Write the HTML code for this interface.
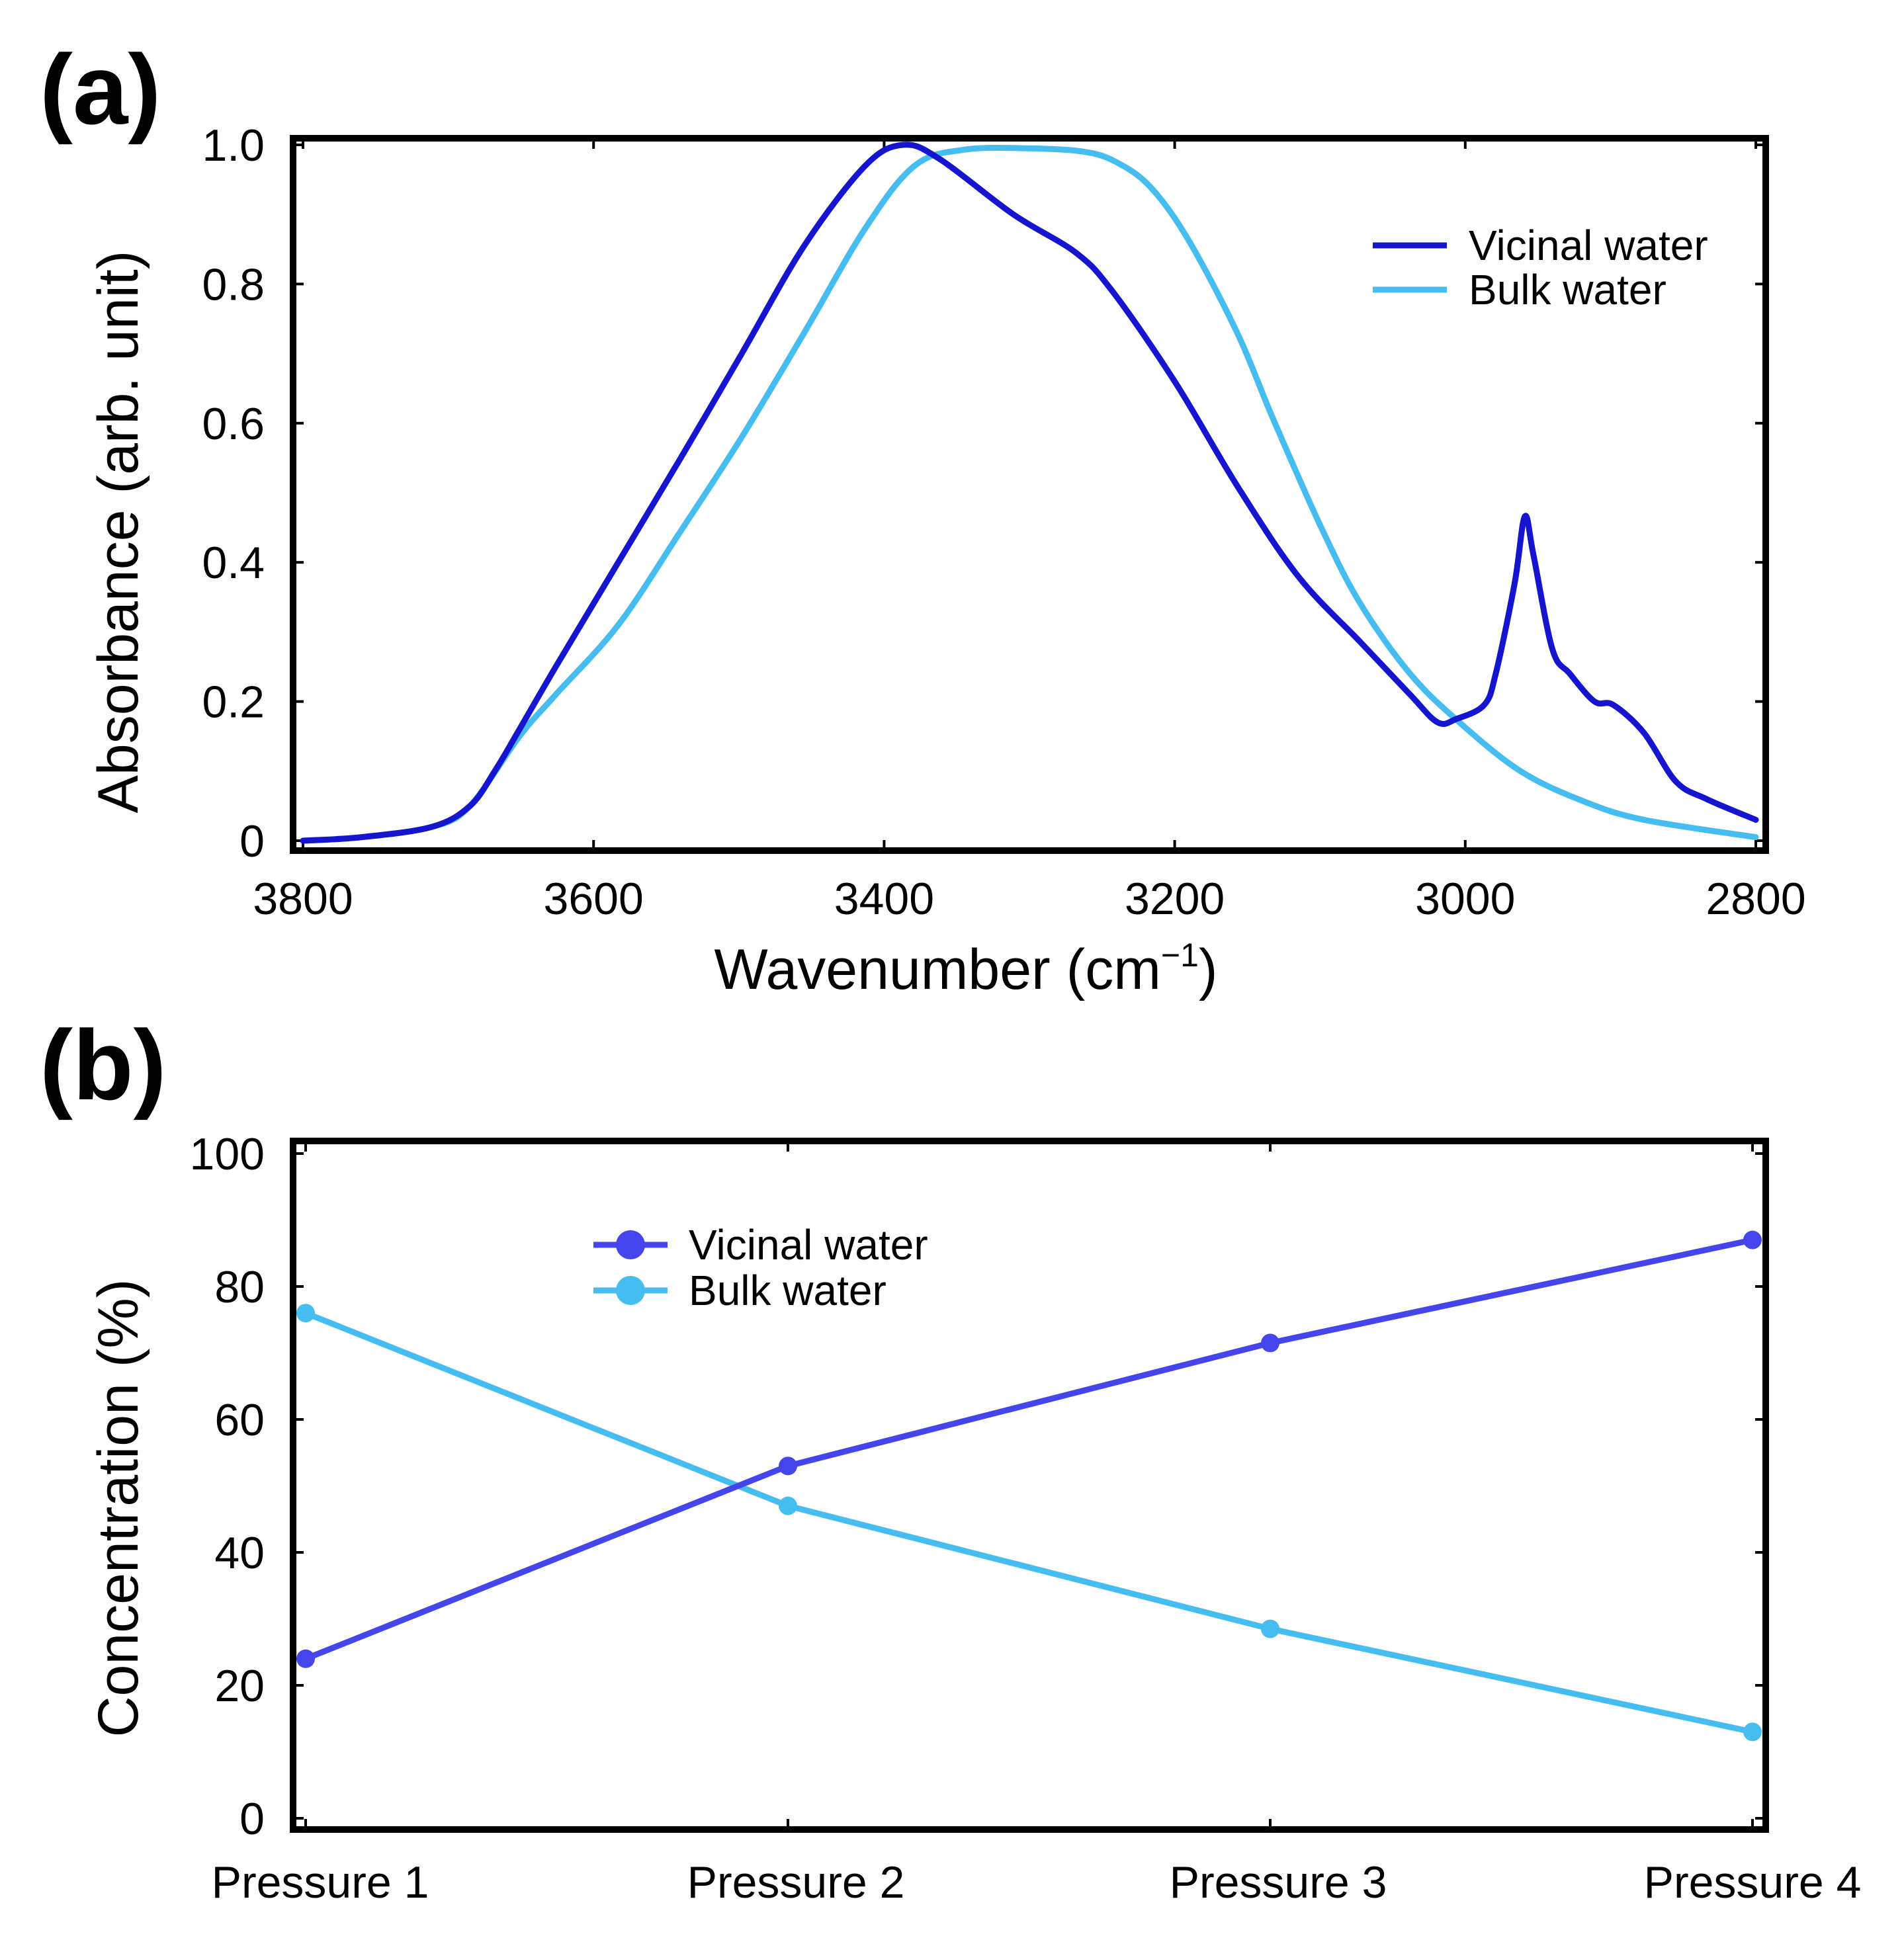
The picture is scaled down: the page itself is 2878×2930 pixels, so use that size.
<!DOCTYPE html>
<html><head><meta charset="utf-8"><style>
html,body{margin:0;padding:0;background:#fff;}
svg{display:block;font-family:"Liberation Sans",sans-serif;}
</style></head><body>
<svg id="fig" width="2878" height="2930" viewBox="0 0 2878 2930" xmlns="http://www.w3.org/2000/svg">
<text x="60" y="187" font-size="150" font-weight="bold">(a)</text>
<text x="60" y="1662" font-size="150" font-weight="bold">(b)</text>
<g id="ga"></g>
<g id="gb"></g>
</svg>
<script>
const specWn = [3800,3760,3711,3685,3668,3651,3626,3583,3540,3498,3455,3413,3387,3362,3311,3268,3243,3200,3157,3115,3072,3038,3019,3006,2987,2979,2966,2959,2953,2940,2928,2911,2898,2877,2855,2834,2800];
const vicinal = [0.0,0.005,0.02,0.05,0.10,0.16,0.25,0.40,0.55,0.70,0.855,0.97,1.0,0.98,0.90,0.845,0.79,0.66,0.51,0.38,0.285,0.21,0.17,0.175,0.195,0.24,0.37,0.466,0.41,0.275,0.24,0.20,0.195,0.155,0.085,0.06,0.03];
const bulkWn = [3800,3760,3711,3685,3651,3626,3583,3540,3498,3455,3413,3379,3345,3300,3262,3240,3217,3191,3157,3132,3098,3072,3038,3004,2962,2919,2877,2800];
const bulk = [0.0,0.005,0.02,0.05,0.15,0.21,0.31,0.445,0.58,0.73,0.88,0.97,0.993,0.995,0.99,0.975,0.94,0.865,0.73,0.605,0.445,0.34,0.24,0.17,0.10,0.057,0.03,0.005];
const xTicksA = [3800,3600,3400,3200,3000,2800];
const yTicksA = [0,0.2,0.4,0.6,0.8,1.0];
const yTickLabelsA = ["0","0.2","0.4","0.6","0.8","1.0"];
const categories = ["Pressure 1","Pressure 2","Pressure 3","Pressure 4"];
const vicinalConc = [24,53,71.5,87];
const bulkConc = [76,47,28.5,13];
const yTicksB = [0,20,40,60,80,100];

const NS="http://www.w3.org/2000/svg";
function mk(p,tag,attrs,txt){const e=document.createElementNS(NS,tag);for(const k in attrs)e.setAttribute(k,attrs[k]);if(txt!==undefined)e.textContent=txt;p.appendChild(e);return e;}
function smoothPath(pts){
  let d='M'+pts[0][0]+','+pts[0][1];
  for(let i=0;i<pts.length-1;i++){
    const p0=pts[Math.max(0,i-1)],p1=pts[i],p2=pts[i+1],p3=pts[Math.min(pts.length-1,i+2)];
    const c1x=p1[0]+(p2[0]-p0[0])/6,c1y=p1[1]+(p2[1]-p0[1])/6;
    const c2x=p2[0]-(p3[0]-p1[0])/6,c2y=p2[1]-(p3[1]-p1[1])/6;
    d+=' C'+c1x+','+c1y+' '+c2x+','+c2y+' '+p2[0]+','+p2[1];
  }
  return d;
}
const TF=68;

// Panel A
const ga=document.getElementById('ga');
const xa=w=>458+(3800-w)/1000*2196;
const ya=v=>1271-v*1052;
const L=443,R=2669,T=209,B=1286;
yTicksA.forEach((v,i)=>{
  let t=mk(ga,'line',{x1:L,x2:L+16,y1:ya(v),y2:ya(v),stroke:'#000','stroke-width':4});
  
  t=mk(ga,'line',{x1:R-16,x2:R,y1:ya(v),y2:ya(v),stroke:'#000','stroke-width':4});
  
  const l=mk(ga,'text',{x:400,y:ya(v)+24,'font-size':TF,'text-anchor':'end'},yTickLabelsA[i]);
  
});
xTicksA.forEach(w=>{
  let t=mk(ga,'line',{x1:xa(w),x2:xa(w),y1:B-16,y2:B,stroke:'#000','stroke-width':4});
  
  t=mk(ga,'line',{x1:xa(w),x2:xa(w),y1:T,y2:T+16,stroke:'#000','stroke-width':4});
  
  const l=mk(ga,'text',{x:xa(w),y:1382,'font-size':TF,'text-anchor':'middle'},String(w));
  
});
function curve(g,xs,ys,fx,fy,color){return mk(g,'path',{d:smoothPath(xs.map((x,i)=>[fx(x),fy(ys[i])])),fill:'none',stroke:color,'stroke-width':9,'stroke-linejoin':'round','stroke-linecap':'round'});}
function poly(g,xs,ys,fx,fy,color){return mk(g,'polyline',{points:xs.map((x,i)=>fx(x)+','+fy(ys[i])).join(' '),fill:'none',stroke:color,'stroke-width':9,'stroke-linejoin':'round','stroke-linecap':'round'});}
let s=curve(ga,bulkWn,bulk,xa,ya,'#45bdf0');

s=curve(ga,specWn,vicinal,xa,ya,'#1515d0');

let fr=mk(ga,'rect',{x:L,y:T,width:R-L,height:B-T,fill:'none',stroke:'#000','stroke-width':10});

let lg=mk(ga,'line',{x1:2075,x2:2187,y1:371,y2:371,stroke:'#1515d0','stroke-width':9});

lg=mk(ga,'text',{x:2220,y:393,'font-size':64},'Vicinal water');

lg=mk(ga,'line',{x1:2075,x2:2187,y1:438,y2:438,stroke:'#45bdf0','stroke-width':9});

lg=mk(ga,'text',{x:2220,y:460,'font-size':64},'Bulk water');

let xt=mk(ga,'text',{x:1460,y:1495,'font-size':86,'text-anchor':'middle'});
xt.innerHTML='Wavenumber (cm<tspan dy="-34" font-size="50">−1</tspan><tspan dy="34">)</tspan>';

let yt=mk(ga,'text',{x:0,y:0,'font-size':86,'text-anchor':'middle',transform:'translate(208,804) rotate(-90)'},'Absorbance (arb. unit)');


// Panel B
const gb=document.getElementById('gb');
const LB=443,RB=2669,TB=1725,BB=2766;
const xb=i=>462+i*729;
const yb=v=>2749-v*10.05;
yTicksB.forEach(v=>{
  let t=mk(gb,'line',{x1:LB,x2:LB+16,y1:yb(v),y2:yb(v),stroke:'#000','stroke-width':4});
  
  t=mk(gb,'line',{x1:RB-16,x2:RB,y1:yb(v),y2:yb(v),stroke:'#000','stroke-width':4});
  
  const l=mk(gb,'text',{x:400,y:yb(v)+24,'font-size':TF,'text-anchor':'end'},String(v));
  
});
categories.forEach((c,i)=>{
  let t=mk(gb,'line',{x1:xb(i),x2:xb(i),y1:BB-16,y2:BB,stroke:'#000','stroke-width':4});
  
  t=mk(gb,'line',{x1:xb(i),x2:xb(i),y1:TB,y2:TB+16,stroke:'#000','stroke-width':4});
  
  const l=mk(gb,'text',{x:xb(i)+(i==0?22:i==3?0:12),y:2869,'font-size':TF,'text-anchor':'middle'},c);
  
});
const idx=categories.map((c,i)=>i);
s=poly(gb,idx,bulkConc,xb,yb,'#45bdf0');

s=poly(gb,idx,vicinalConc,xb,yb,'#4545ee');

bulkConc.forEach((v,i)=>{const c=mk(gb,'circle',{cx:xb(i),cy:yb(v),r:14,fill:'#45bdf0'});
  });
vicinalConc.forEach((v,i)=>{const c=mk(gb,'circle',{cx:xb(i),cy:yb(v),r:14,fill:'#4545ee'});
  });
fr=mk(gb,'rect',{x:LB,y:TB,width:RB-LB,height:BB-TB,fill:'none',stroke:'#000','stroke-width':10});

lg=mk(gb,'line',{x1:897,x2:1009,y1:1882,y2:1882,stroke:'#4545ee','stroke-width':9});

lg=mk(gb,'circle',{cx:953,cy:1882,r:22,fill:'#4545ee'});

lg=mk(gb,'text',{x:1041,y:1904,'font-size':64},'Vicinal water');

lg=mk(gb,'line',{x1:897,x2:1009,y1:1951,y2:1951,stroke:'#45bdf0','stroke-width':9});

lg=mk(gb,'circle',{cx:953,cy:1951,r:22,fill:'#45bdf0'});

lg=mk(gb,'text',{x:1041,y:1973,'font-size':64},'Bulk water');

yt=mk(gb,'text',{x:0,y:0,'font-size':86,'text-anchor':'middle',transform:'translate(208,2280) rotate(-90)'},'Concentration (%)');

</script>
</body></html>
